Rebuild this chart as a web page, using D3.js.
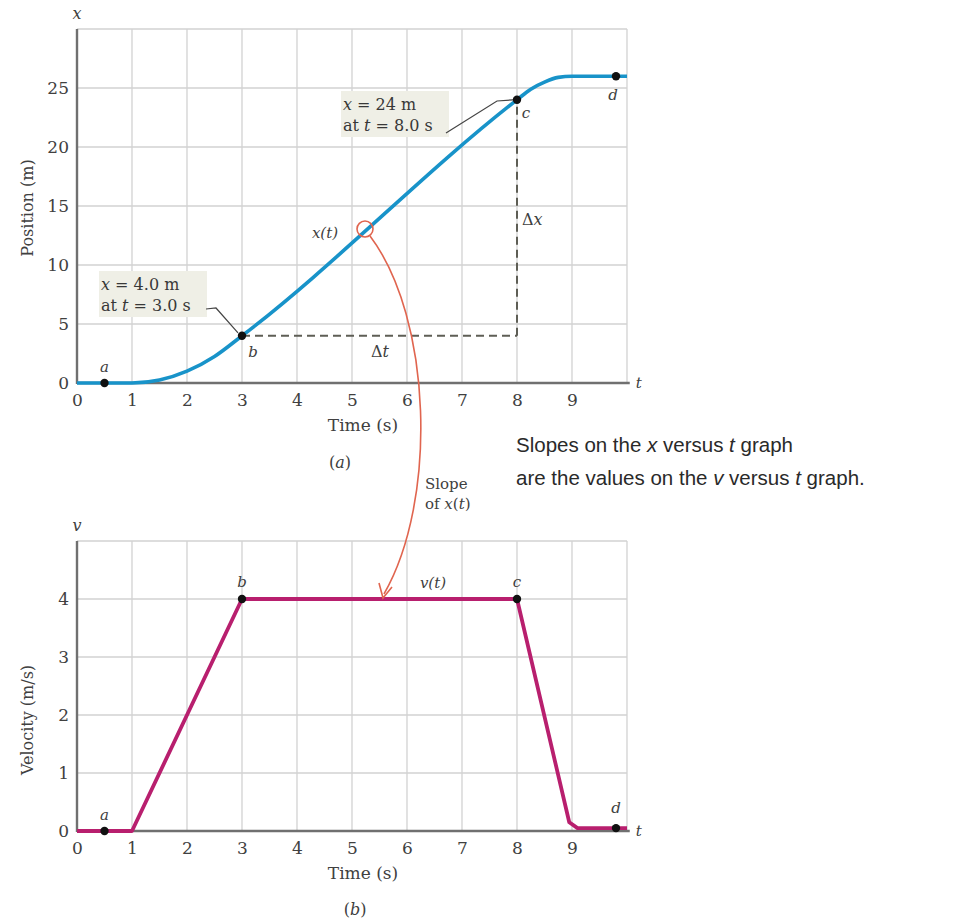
<!DOCTYPE html>
<html>
<head>
<meta charset="utf-8">
<script src="https://cdn.jsdelivr.net/npm/d3@7"></script>
<style>
  html, body { margin: 0; padding: 0; background: #fff; }
  svg { display: block; }
</style>
</head>
<body>
<svg id="chart" width="963" height="922"></svg>
<script>
// Position of the object versus time (panel a)
const posT = [0, 0.5, 1, 1.5, 2, 2.5, 3, 8, 8.25, 8.5, 8.75, 9, 10];
const posX = [0, 0, 0, 0.25, 1, 2.25, 4, 24, 24.9, 25.5, 25.9, 26, 26];
// Velocity versus time (panel b)
const velT = [0, 1, 3, 8, 8.95, 9.1, 10];
const velV = [0, 0, 4, 4, 0.15, 0.05, 0.05];
// Labelled instants a, b, c, d
const keyNames = ["a", "b", "c", "d"];
const keyT = [0.5, 3, 8, 9.8];
const keyX = [0, 4, 24, 26];
const keyV = [0, 4, 4, 0.05];
// Tick labels
const timeTicks = [0, 1, 2, 3, 4, 5, 6, 7, 8, 9];
const posTicks = [0, 5, 10, 15, 20, 25];
const velTicks = [0, 1, 2, 3, 4];

const svg = d3.select("#chart");
const serif = '"DejaVu Serif", "Liberation Serif", serif';
const sans = '"Liberation Sans", Arial, sans-serif';
const gridColor = "#d2d2d2";
const axisColor = "#707070";
const textColor = "#404040";

const x = d3.scaleLinear().domain([0, 10]).range([77, 627]);
const yTop = d3.scaleLinear().domain([0, 30]).range([383, 29]);
const yBot = d3.scaleLinear().domain([0, 5]).range([831, 541]);

function panel(y, yTicks, yMax, yStep, letter, yTitle, caption, capPos, titleCY) {
  const g = svg.append("g");
  // grid
  g.selectAll(".vg").data(d3.range(1, 11)).join("line")
    .attr("x1", d => x(d)).attr("x2", d => x(d))
    .attr("y1", y(0)).attr("y2", y(yMax))
    .attr("stroke", gridColor).attr("stroke-width", 1.3);
  g.selectAll(".hg").data(d3.range(yStep, yMax + 0.001, yStep)).join("line")
    .attr("x1", x(0)).attr("x2", x(10))
    .attr("y1", d => y(d)).attr("y2", d => y(d))
    .attr("stroke", gridColor).attr("stroke-width", 1.3);

  // axes drawn with d3 axis generators, then restyled
  const xa = g.append("g").attr("transform", `translate(0,${y(0)})`)
    .call(d3.axisBottom(x).tickValues(timeTicks).tickSize(0).tickPadding(11).tickFormat(d3.format("d")));
  const ya = g.append("g").attr("transform", `translate(${x(0)},0)`)
    .call(d3.axisLeft(y).tickValues(yTicks).tickSize(0).tickPadding(8).tickFormat(d3.format("d")));
  [xa, ya].forEach(a => {
    a.select(".domain").remove();
    a.selectAll("text").attr("font-family", serif).attr("font-size", 17).attr("fill", textColor);
  });
  g.append("line").attr("x1", x(0)).attr("x2", x(10.05)).attr("y1", y(0)).attr("y2", y(0))
    .attr("stroke", axisColor).attr("stroke-width", 2.4);
  g.append("line").attr("x1", x(0)).attr("x2", x(0)).attr("y1", y(0) + 1).attr("y2", y(yMax))
    .attr("stroke", axisColor).attr("stroke-width", 2.4);

  // axis letters and titles
  g.append("text").attr("x", x(0)).attr("y", y(yMax) - 10).attr("text-anchor", "middle")
    .attr("font-family", serif).attr("font-style", "italic").attr("font-size", 16).attr("fill", textColor).text(letter);
  g.append("text").attr("x", x(10.05) + 6).attr("y", y(0) + 5)
    .attr("font-family", serif).attr("font-style", "italic").attr("font-size", 15).attr("fill", textColor).text("t");
  g.append("text").attr("transform", `translate(33,${titleCY}) rotate(-90)`).attr("text-anchor", "middle")
    .attr("font-family", serif).attr("font-size", 16).attr("fill", textColor).text(yTitle);
  g.append("text").attr("x", x(5.2)).attr("y", y(0) + 48).attr("text-anchor", "middle")
    .attr("font-family", serif).attr("font-size", 17).attr("fill", textColor).text("Time (s)");
  const cap = g.append("text").attr("x", capPos[0]).attr("y", capPos[1]).attr("text-anchor", "middle")
    .attr("font-family", serif).attr("font-size", 16).attr("fill", textColor);
  cap.append("tspan").text("(");
  cap.append("tspan").attr("font-style", "italic").text(caption);
  cap.append("tspan").text(")");
  return g;
}

const gA = panel(yTop, posTicks, 30, 5, "x", "Position (m)", "a", [340, 468], 208);
const gB = panel(yBot, velTicks, 5, 1, "v", "Velocity (m/s)", "b", [355, 915], 720);

// Δt / Δx construction between b and c
const dash = gA.append("g").attr("stroke", "#5e5e55").attr("stroke-width", 2).attr("fill", "none")
  .attr("stroke-dasharray", "8,5");
dash.append("line").attr("x1", x(keyT[1])).attr("x2", x(keyT[2]))
  .attr("y1", yTop(keyX[1])).attr("y2", yTop(keyX[1]));
dash.append("line").attr("x1", x(keyT[2])).attr("x2", x(keyT[2]))
  .attr("y1", yTop(keyX[1])).attr("y2", yTop(keyX[2]));

// value callouts with leader lines
function callout(g, bx, by, bw, lines, leader) {
  g.append("rect").attr("x", bx).attr("y", by).attr("width", bw).attr("height", 46)
    .attr("fill", "#efefe6");
  lines.forEach((ln, i) => {
    const t = g.append("text").attr("x", bx + 2).attr("y", by + 19 + i * 21)
      .attr("font-family", serif).attr("font-size", 16).attr("fill", "#383838");
    ln.forEach(([s, it]) => t.append("tspan").attr("font-style", it ? "italic" : "normal").text(s));
  });
  g.append("path").attr("d", d3.line()(leader)).attr("fill", "none").attr("stroke", "#444").attr("stroke-width", 1.2);
}
callout(gA, 99, 271, 108, [[["x", true], [" = 4.0 m", false]], [["at ", false], ["t", true], [" = 3.0 s", false]]],
  [[206, 309], [216, 308], [x(keyT[1]) - 4, yTop(keyX[1]) - 3]]);
callout(gA, 341, 91, 108, [[["x", true], [" = 24 m", false]], [["at ", false], ["t", true], [" = 8.0 s", false]]],
  [[446, 133], [497, 101], [x(keyT[2]) - 4, yTop(keyX[2])]]);

// position curve
const posData = posT.map((t, i) => [t, posX[i]]);
const posLine = d3.line().x(d => x(d[0])).y(d => yTop(d[1])).curve(d3.curveMonotoneX);
gA.append("path").datum(posData).attr("d", posLine).attr("fill", "none")
  .attr("stroke", "#1893c9").attr("stroke-width", 3.6);

// velocity curve
const velData = velT.map((t, i) => [t, velV[i]]);
const velLine = d3.line().x(d => x(d[0])).y(d => yBot(d[1])).curve(d3.curveLinear);
gB.append("path").datum(velData).attr("d", velLine).attr("fill", "none")
  .attr("stroke", "#b81f6e").attr("stroke-width", 3.8).attr("stroke-linejoin", "round");

// key points
const italicLabel = (g, px, py, txt, size = 15) => g.append("text").attr("x", px).attr("y", py)
  .attr("text-anchor", "middle").attr("font-family", serif).attr("font-style", "italic")
  .attr("font-size", size).attr("fill", textColor).text(txt);

keyT.forEach((t, i) => {
  gA.append("circle").attr("cx", x(t)).attr("cy", yTop(keyX[i])).attr("r", 4.2).attr("fill", "#111");
  gB.append("circle").attr("cx", x(t)).attr("cy", yBot(keyV[i])).attr("r", 4.2).attr("fill", "#111");
});
// panel a labels
italicLabel(gA, x(keyT[0]), yTop(keyX[0]) - 11, keyNames[0]);
italicLabel(gA, x(keyT[1]) + 11, yTop(keyX[1]) + 21, keyNames[1]);
italicLabel(gA, x(keyT[2]) + 9, yTop(keyX[2]) + 18, keyNames[2]);
italicLabel(gA, x(keyT[3]) - 3, yTop(keyX[3]) + 24, keyNames[3]);
// panel b labels
italicLabel(gB, x(keyT[0]), yBot(keyV[0]) - 11, keyNames[0]);
italicLabel(gB, x(keyT[1]), yBot(keyV[1]) - 12, keyNames[1]);
italicLabel(gB, x(keyT[2]), yBot(keyV[2]) - 12, keyNames[2]);
italicLabel(gB, x(keyT[3]), yBot(keyV[3]) - 15, keyNames[3]);

// function names and differences
italicLabel(gA, 325, 238, "x(t)", 15);
italicLabel(gB, 433, 588, "v(t)", 15);
gA.append("text").attr("x", 522).attr("y", 225).attr("font-family", serif).attr("font-size", 16).attr("fill", textColor)
  .call(t => { t.append("tspan").text("Δ"); t.append("tspan").attr("font-style", "italic").text("x"); });
gA.append("text").attr("x", 380).attr("y", 357).attr("text-anchor", "middle").attr("font-family", serif).attr("font-size", 16).attr("fill", textColor)
  .call(t => { t.append("tspan").text("Δ"); t.append("tspan").attr("font-style", "italic").text("t"); });

// slope arrow from x(t) to v(t)
const red = "#e0654f";
svg.append("circle").attr("cx", 365).attr("cy", 229).attr("r", 8)
  .attr("fill", "none").attr("stroke", red).attr("stroke-width", 1.6);
svg.append("path").attr("d", "M370,236 C432,318 438,500 384,594")
  .attr("fill", "none").attr("stroke", red).attr("stroke-width", 1.6);
svg.append("path").attr("d", "M379,583 L383,598 L392,587")
  .attr("fill", "none").attr("stroke", red).attr("stroke-width", 1.6);
svg.append("text").attr("x", 425).attr("y", 489).attr("font-family", serif).attr("font-size", 15).attr("fill", textColor).text("Slope");
svg.append("text").attr("x", 425).attr("y", 509).attr("font-family", serif).attr("font-size", 15).attr("fill", textColor)
  .call(t => { t.append("tspan").text("of "); t.append("tspan").attr("font-style", "italic").text("x"); t.append("tspan").text("("); t.append("tspan").attr("font-style", "italic").text("t"); t.append("tspan").text(")"); });

// explanatory note
const note = [
  [["Slopes on the ", false], ["x", true], [" versus ", false], ["t", true], [" graph", false]],
  [["are the values on the ", false], ["v", true], [" versus ", false], ["t", true], [" graph.", false]]
];
note.forEach((ln, i) => {
  const t = svg.append("text").attr("x", 516).attr("y", 452 + i * 33)
    .attr("font-family", sans).attr("font-size", 20.5).attr("fill", "#2a2a2a");
  ln.forEach(([s, it]) => t.append("tspan").attr("font-style", it ? "italic" : "normal").text(s));
});
</script>
</body>
</html>
